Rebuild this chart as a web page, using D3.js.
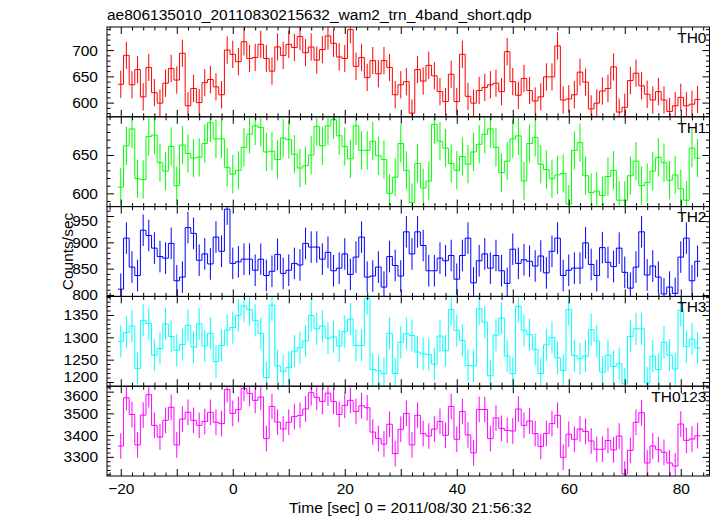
<!DOCTYPE html>
<html><head><meta charset="utf-8">
<script src="https://cdn.jsdelivr.net/npm/d3@7"></script>
<style>body{margin:0;background:#fff}</style>
</head><body>
<svg id="c" width="717" height="516"></svg>
<script>
const title = "ae806135010_20110830215632_wam2_trn_4band_short.qdp";
const xLabel = "Time [sec] 0 = 2011/08/30 21:56:32";
const yLabel = "Counts/sec";
const firstBin = -20;
const panelNames = ["TH0","TH1","TH2","TH3","TH0123"];

const th0 = [635,690,634,663,611,667,619,599,637,665,643,694,594,627,600,638,644,630,615,700,
  692,678,716,684,686,711,684,660,706,690,711,705,726,695,706,681,701,727,713,687,684,739,669,686,648,680,655,680,667,615,634,640,
  580,663,641,671,651,621,602,654,602,692,612,599,623,629,634,637,621,697,640,614,646,623,603,611,649,649,708,605,607,615,658,639,588,599,622,627,668,582,591,642,656,632,616,605,621,605,583,594,610,594,597,606];
const th1 = [608,662,684,619,618,674,676,640,629,661,610,663,652,646,647,665,692,671,671,634,
  625,630,660,677,688,686,654,655,644,672,670,651,633,636,650,687,662,688,696,675,661,645,688,656,656,668,649,644,600,621,665,630,
  588,639,607,616,690,668,659,639,630,648,638,654,664,677,684,660,627,642,671,675,616,665,673,638,631,619,624,626,586,656,666,623,601,603,597,622,630,591,591,623,642,610,614,629,647,640,617,624,606,591,659,646];
const th2 = [811,908,853,837,923,913,889,873,870,898,827,834,928,917,866,878,859,910,883,963,
  860,863,868,868,847,868,837,845,877,841,847,860,857,898,891,891,868,881,846,851,878,839,872,910,834,836,853,815,873,856,836,920,
  878,920,894,846,846,870,865,875,830,875,908,823,865,878,851,875,846,822,887,860,867,864,855,874,842,883,908,837,847,851,851,899,858,837,890,862,854,889,843,813,853,920,838,855,834,802,815,803,872,908,827,864];
const th3 = [1291,1311,1325,1230,1338,1331,1260,1275,1330,1302,1271,1284,1327,1278,1330,1281,1309,1246,1282,1316,
  1322,1349,1370,1362,1338,1309,1210,1372,1236,1224,1233,1269,1277,1292,1349,1319,1325,1298,1301,1281,1313,1341,1282,1282,1387,1228,1225,1219,1309,1219,1289,1308,
  1304,1267,1263,1261,1240,1303,1270,1362,1315,1293,1237,1236,1364,1334,1214,1305,1343,1258,1219,1369,1316,1306,1273,1219,1283,1300,1254,1226,1362,1259,1252,1258,1317,1292,1222,1260,1235,1241,1196,1302,1319,1319,1198,1258,1228,1289,1260,1229,1360,1279,1296,1276];
const th0123 = [3350,3572,3495,3355,3492,3586,3445,3391,3468,3528,3355,3474,3505,3468,3445,3463,3505,3459,3453,3610,
  3500,3518,3615,3592,3560,3575,3384,3532,3460,3428,3459,3485,3491,3520,3595,3574,3555,3593,3555,3495,3537,3560,3509,3535,3526,3414,3384,3359,3450,3315,3427,3500,
  3355,3491,3407,3396,3428,3463,3399,3532,3381,3509,3401,3318,3518,3518,3384,3479,3431,3422,3419,3520,3445,3465,3407,3348,3408,3453,3491,3298,3404,3381,3428,3417,3373,3335,3335,3375,3332,3396,3221,3330,3459,3503,3272,3350,3333,3321,3272,3258,3451,3376,3382,3397];
const series = [th0, th1, th2, th3, th0123];
const errors = [26, 25, 30, 36, 59];

const yDomains = [[573,744],[582.7,699.8],[797.3,967.9],[1190.6,1391.6],[3212,3625]];
const yMajor = [[600,650,700],[600,650],[800,850,900,950],[1200,1250,1300,1350],[3300,3400,3500,3600]];
const yMinorStep = [10,10,10,10,20];
const xDomain = [-22.46, 85.13];
const xMajor = [-20,-10,0,10,20,30,40,50,60,70,80];
const xTickLabels = [-20,0,20,40,60,80];
const colors = ["#ff0000","#00ff00","#0000ff","#00ffff","#ff00ff"];

const W = 717, H = 516;
const mLeft = 107, mRight = 709.5, mTop = 27, mBottom = 476;
const panelH = (mBottom - mTop) / series.length;
const FONT = "'Liberation Sans', Arial, Helvetica, sans-serif";
// small vertical nudges of edge tick labels (panel index -> value -> px)
const labelNudge = {2: {950: 5}, 3: {1200: -5}, 4: {3600: 4}};

const svg = d3.select("#c");
svg.append("rect").attr("width", W).attr("height", H).attr("fill", "#fff");

const x = d3.scaleLinear().domain(xDomain).range([mLeft, mRight]);
const xMinor = d3.range(-22, 86, 2).filter(v => v >= xDomain[0] && v <= xDomain[1] && v % 10 !== 0);

series.forEach((vals, i) => {
  const y0 = mTop + i * panelH, y1 = y0 + panelH;
  const y = d3.scaleLinear().domain(yDomains[i]).range([y1, y0]);
  const g = svg.append("g");
  const clipId = "clip" + i;
  svg.append("clipPath").attr("id", clipId).append("rect")
    .attr("x", mLeft).attr("y", y0).attr("width", mRight - mLeft).attr("height", panelH);

  const data = vals.map((v, k) => ({t: firstBin + k, v}));
  const pts = data.map(d => [d.t - 0.5, d.v]);
  pts.push([data[data.length - 1].t + 0.5, data[data.length - 1].v]);

  const plot = g.append("g").attr("clip-path", `url(#${clipId})`);
  plot.selectAll("line.err").data(data).enter().append("line")
    .attr("x1", d => x(d.t)).attr("x2", d => x(d.t))
    .attr("y1", d => y(d.v - errors[i])).attr("y2", d => y(d.v + errors[i]))
    .attr("stroke", colors[i]).attr("stroke-width", 1);
  plot.append("path")
    .attr("d", d3.line().x(p => x(p[0])).y(p => y(p[1])).curve(d3.curveStepAfter)(pts))
    .attr("fill", "none").attr("stroke", colors[i]).attr("stroke-width", 1);

  const [lo, hi] = yDomains[i];
  const st = yMinorStep[i];
  const minors = d3.range(Math.ceil(lo / st) * st, hi, st).filter(v => !yMajor[i].includes(v));
  const axG = g.append("g").attr("font-family", FONT);
  const mk = (axis, tx, ty) => {
    const a = axG.append("g").attr("transform", `translate(${tx},${ty})`).call(axis);
    a.select(".domain").remove();
    a.selectAll("line").attr("stroke", "#000").attr("stroke-width", 1);
    return a;
  };
  const yl = mk(d3.axisLeft(y).tickValues(yMajor[i]).tickSize(-7).tickPadding(9).tickFormat(d3.format("d")), mLeft, 0);
  yl.selectAll("text").attr("font-size", 15.5).attr("fill", "#000").attr("font-family", FONT)
    .attr("y", d => (labelNudge[i] && labelNudge[i][d]) || 0);
  mk(d3.axisLeft(y).tickValues(minors).tickSize(-3.5).tickFormat(""), mLeft, 0);
  mk(d3.axisRight(y).tickValues(yMajor[i]).tickSize(-7).tickFormat(""), mRight, 0);
  mk(d3.axisRight(y).tickValues(minors).tickSize(-3.5).tickFormat(""), mRight, 0);
  mk(d3.axisBottom(x).tickValues(xMajor).tickSize(-7).tickFormat(""), 0, y1);
  mk(d3.axisBottom(x).tickValues(xMinor).tickSize(-3.5).tickFormat(""), 0, y1);
  mk(d3.axisTop(x).tickValues(xMajor).tickSize(-7).tickFormat(""), 0, y0);
  mk(d3.axisTop(x).tickValues(xMinor).tickSize(-3.5).tickFormat(""), 0, y0);

  g.append("rect").attr("x", mLeft).attr("y", y0).attr("width", mRight - mLeft).attr("height", panelH)
    .attr("fill", "none").attr("stroke", "#000").attr("stroke-width", 1);

  g.append("text").attr("x", mRight - 3).attr("y", y0 + 15.7).attr("text-anchor", "end")
    .attr("font-family", FONT).attr("font-size", 15.5).attr("fill", "#000").text(panelNames[i]);
});

const xa = svg.append("g").attr("transform", `translate(0,${mBottom})`)
  .call(d3.axisBottom(x).tickValues(xTickLabels).tickSize(0).tickPadding(7).tickFormat(d3.format("d")));
xa.select(".domain").remove();
xa.selectAll("text").attr("font-size", 15.5).attr("font-family", FONT).attr("fill", "#000");

svg.append("text").attr("x", (mLeft + mRight) / 2 + 2).attr("y", 513).attr("text-anchor", "middle")
  .attr("font-family", FONT).attr("font-size", 15.5).attr("fill", "#000").text(xLabel);

svg.append("text").attr("transform", `translate(73,${(mTop + mBottom) / 2}) rotate(-90)`)
  .attr("text-anchor", "middle").attr("font-family", FONT).attr("font-size", 15.5).attr("fill", "#000").text(yLabel);

svg.append("text").attr("x", mLeft).attr("y", 20).attr("font-family", FONT).attr("font-size", 15.5)
  .attr("fill", "#000").text(title);
</script>
</body></html>
